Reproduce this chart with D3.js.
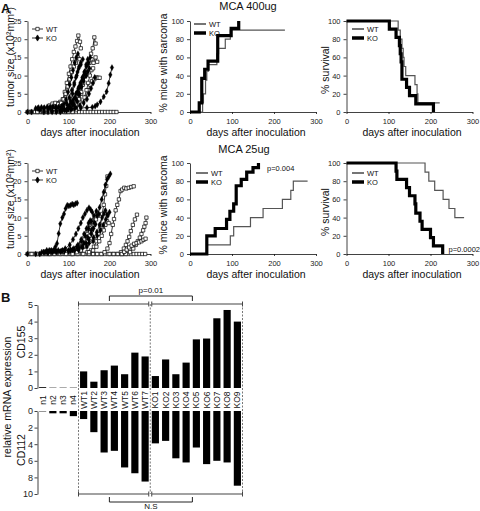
<!DOCTYPE html>
<html><head><meta charset="utf-8">
<script src="https://cdn.jsdelivr.net/npm/d3@7"></script>
<style>body{margin:0;background:#fff}svg{font-family:"Liberation Sans",Arial,sans-serif}</style>
</head><body><svg id="c" width="480" height="511"></svg>
<script>
// ---------------- DATA ----------------
const dayTicks = [0, 100, 200, 300];
const tumorTicks = [0, 5, 10, 15, 20, 25];
const pctTicks = [0, 20, 40, 60, 80, 100];

// Tumor growth, MCA 400ug: [day, size]
const t400_WT = [
  [[0,0],[7,0],[14,0],[21,0],[28,0],[35,0],[42,0],[49,0],[56,0],[63,0],[70,0],[77,0],[84,0],[91,0],[98,0],[105,0],[112,0],[119,0],[126,0],[133,0],[140,0],[147,0],[154,0],[161,0],[168,0],[175,0],[182,0],[189,0],[196,0],[203,0],[210,0],[217,0]],
  [[3,0],[10,0],[17,0],[24,0],[31,0],[38,0],[45,0],[52,0.5],[59,1.5],[66,2.2],[73,2.4],[80,2.8],[86,3.5],[91,5.5],[96,8],[101,10.5],[105,12.5],[109,14.5],[113,16.5],[117,18],[121,19.5],[124,21],[128,19.3],[130,17.5]],
  [[10,0],[24,0],[38,0],[52,0],[66,0],[80,0],[94,0],[105,0.5],[115,1],[122,2],[127,3.5],[131,5],[135,7.5],[140,10],[145,12.3],[150,14],[155,16],[159,17.5],[163,20.5],[166,18.8]],
  [[100,0],[110,0.3],[120,0.8],[128,1.5],[135,2.5],[142,4],[148,6],[153,7.5],[158,8.5],[163,9],[168,9.5],[172,9.4],[176,9.4]],
  [[90,0],[100,0.5],[110,1],[118,2],[125,3.5],[131,5.5],[136,8],[141,10],[146,12],[151,13.5],[156,14.5],[161,13.5],[166,15],[170,13.8]],
  [[40,0],[47,0.8],[54,1.8],[61,2.3],[68,2.5],[75,2.2],[82,2.5],[88,3.5],[93,5],[98,7],[103,9],[108,11],[113,12.5],[118,13.5],[123,15],[127,14.5]],
  [[110,0],[118,0.5],[126,1],[133,2],[139,4],[144,6],[148,8],[152,10],[156,11.5],[160,12]]
];
const t400_KO = [
  [[0,0],[10,0],[20,1],[27,1.2],[34,1.3],[41,1.2],[48,1.4],[55,1.3],[62,1.5],[69,1.3],[76,1.4],[83,1.6],[89,2.2],[94,3.5],[99,5.5],[103,7.5],[107,9.5],[111,11.5],[115,13.5],[119,15],[123,16]],
  [[40,0],[60,0.3],[80,0.6],[100,0.8],[115,1],[130,1.1],[145,1.2],[158,1.3],[165,1.6],[170,2],[178,2.8],[186,4.2],[193,5.6],[198,7.9],[202,10.2],[206,12.2]],
  [[30,0.5],[50,0.8],[70,1],[85,1.5],[95,2.5],[102,4],[108,6],[114,8],[120,10],[125,12],[130,13],[135,14.5]],
  [[50,0],[70,0.3],[85,0.5],[100,1],[110,2],[118,3.5],[124,5],[129,7],[134,9],[139,11],[144,12.5],[149,13.5],[153,15]],
  [[60,0],[80,0.3],[95,0.5],[105,1],[114,2],[121,3],[127,5],[132,7],[137,8.5],[142,10],[147,11],[151,12]],
  [[25,1],[40,1],[55,1.2],[70,1],[85,1.5],[98,1.8],[106,2.5],[112,3.5],[118,5],[124,6.5],[129,8],[134,9.5],[139,11],[143,13],[147,14.5]],
  [[70,0],[90,0.8],[102,1.5],[110,2.5],[116,4],[121,5.5],[126,7],[131,8],[135,9.5],[139,10.5],[143,10]],
  [[80,0],[95,0.5],[108,0.8],[118,1.2],[128,1.8],[137,2.5],[145,3.5],[150,5],[155,6.5],[160,8],[164,9.5]],
  [[90,0.5],[100,1.5],[105,3],[110,5],[114,7.5],[118,9.5],[122,11],[126,12.5],[130,13.5]]
];

// Tumor growth, MCA 25ug
const t25_WT = [
  [[0,0],[7,0],[14,0],[21,0],[28,0],[35,0],[42,0],[49,0],[56,0],[63,0],[70,0],[77,0],[84,0],[91,0],[98,0],[105,0],[112,0],[119,0],[126,0],[133,0],[140,0],[147,0],[154,0],[161,0],[168,0],[175,0],[182,0],[189,0],[196,0],[203,0],[210,0],[217,0],[224,0],[231,0],[238,0],[245,0],[252,0],[259,0],[266,0],[273,0],[280,0],[287,0]],
  [[3,0],[17,0],[31,0],[45,0],[55,0],[60,0.6],[66,0.7],[72,0.7],[78,0.7],[84,0.7],[90,0.6],[97,0.5],[104,0.8],[111,1],[118,1.5],[125,2],[132,3],[139,4],[146,5.5],[152,7],[158,8.5],[164,10],[170,11]],
  [[10,0],[24,0],[38,0],[52,0],[66,0],[80,0],[94,0],[108,0],[122,0],[136,0],[146,0.5],[155,1],[162,2],[168,3.5],[173,5.5],[178,8],[182,11],[186,13.5],[189,16.4],[192,18.7],[195,21.3]],
  [[150,0],[160,0],[170,0],[180,0],[188,0.5],[195,1.5],[200,3],[204,5.5],[208,8],[211,9.6],[215,12],[219,13.5],[223,15],[227,17.3],[231,17.7],[236,18.2],[241,18],[247,18.2],[253,18.4],[259,18.6]],
  [[200,0],[210,0],[220,0],[228,0.5],[235,1.5],[240,2.5],[244,3.5],[248,4.7],[252,6.3],[257,8],[262,9.5],[267,10.8]],
  [[230,0],[240,0],[250,0.5],[258,1.5],[264,2.5],[269,3.5],[274,4.5],[278,5.5],[282,6.5],[285,7.5],[288,8.5],[290,10]],
  [[230,0],[236,0.6],[242,1.2],[248,1.8],[254,2.3],[260,2.8],[266,3],[272,3.2],[278,3.5],[283,3.9],[288,4.2]],
  [[110,0],[120,0.5],[130,1],[138,2],[145,3.5],[151,5],[157,6.5],[162,8],[167,9.5],[172,10.5]],
  [[150,0.5],[160,1],[168,2],[175,3.5],[181,5],[186,6.5],[190,8],[194,9],[198,8.5]]
];
const t25_KO = [
  [[0,0],[20,0],[40,0.5],[47,1],[53,1],[58,1],[64,1.1],[68,2],[72,2.9],[76,5.6],[80,8.3],[85,10],[89,11],[93,12.5],[97,13.4],[101,13.2],[105,13.4],[109,13.7],[113,13.5],[117,13.8],[121,14]],
  [[30,0],[50,0.5],[70,0.8],[90,1],[110,1.2],[125,1.8],[137,3],[147,4.5],[156,6.5],[163,8.5],[170,10.5],[176,12.8],[181,15],[186,17],[190,19],[194,20.5],[198,21.2],[202,22]],
  [[35,0.5],[55,0.8],[75,1],[92,1.5],[103,2.5],[111,4],[118,5.5],[124,7],[130,8.5],[135,10],[140,11],[145,12],[150,12.7],[154,12.2],[158,11.5]],
  [[45,0.5],[65,0.8],[85,1],[105,1.2],[120,2],[131,3.5],[141,5],[149,7],[156,9],[162,10.5],[168,11.8],[174,11]],
  [[60,0.5],[90,0.8],[115,1],[135,1.8],[150,3],[161,4.5],[169,6],[176,8],[182,10],[186,11],[190,12],[194,10.8]],
  [[50,0.3],[80,0.6],[105,1],[122,1.5],[133,2],[143,3],[150,4],[156,5.5],[161,7],[166,8.2]],
  [[40,0.5],[62,0.8],[82,0.8],[100,1],[113,1.5],[123,2.5],[131,4],[138,5.5],[144,7],[149,8.5],[153,9.2]],
  [[70,0.5],[100,0.8],[125,1.2],[145,2],[160,3.5],[170,5],[178,6.5],[185,8],[191,9.5],[196,10.5],[200,11.5]]
];

// Step curves (event points: [day, percent])
const sarc400_WT = [[0,0],[30,10],[32,20],[37,35],[40,45],[44,52],[64,64],[68,70],[84,80],[96,90],[226,90]];
const sarc400_KO = [[0,0],[22,10],[28,37],[35,47],[43,56],[66,84],[98,92],[116,100]];
const surv400_WT = [[0,100],[123,90],[128,80],[132,70],[135,60],[137,50],[141,40],[163,30],[168,20],[170,10],[222,10]];
const surv400_KO = [[0,100],[102,91],[118,82],[126,73],[128,64],[130,55],[132,36],[143,27],[150,18],[165,9],[207,0]];
const sarc25_WT = [[0,0],[40,10],[96,20],[104,30],[144,40],[174,50],[220,60],[240,70],[246,80],[280,80]];
const sarc25_KO = [[0,0],[40,20],[60,28],[87,38],[95,47],[104,55],[110,75],[122,82],[135,90],[150,95],[163,100]];
const surv25_WT = [[0,100],[187,90],[196,80],[210,70],[230,60],[244,50],[258,40],[280,40]];
const surv25_KO = [[0,100],[118,91],[120,82],[143,73],[150,64],[163,55],[165,45],[175,36],[180,27],[200,18],[207,9],[229,0]];

// Panel B
const categories = ["n1","n2","n3","n4","WT1","WT2","WT3","WT4","WT5","WT6","WT7","KO1","KO2","KO3","KO4","KO5","KO6","KO7","KO8","KO9"];
const cd155 = [0.05,0.02,0.02,0.02,1.0,0.38,1.07,1.35,0.83,2.13,1.9,0.72,1.72,0.83,1.53,2.93,2.98,4.2,4.7,4.0];
const cd112 = [0.05,0.28,0.28,0.62,0.97,2.55,5.0,4.8,6.8,7.5,8.5,3.9,3.6,5.7,6.2,4.4,6.4,6.0,6.2,9.0];
const cd155Ticks = [0,1,2,3,4,5];
const cd112Ticks = [0,2,4,6,8,10];

// ---------------- DRAW ----------------
const svg = d3.select("#c");
const INK = "#111";

function styleAxis(g, fs) {
  g.selectAll("path.domain").attr("stroke", INK).attr("stroke-width", 0.8);
  g.selectAll(".tick line").attr("stroke", INK).attr("stroke-width", 0.8);
  g.selectAll("text").attr("font-size", fs).attr("fill", "#222").attr("font-family", "Liberation Sans, Arial, sans-serif");
}

function makePlot(x0, width, yBot, yTop, yMax, yTicks) {
  const x = d3.scaleLinear().domain([0, 300]).range([x0, x0 + width]);
  const y = d3.scaleLinear().domain([0, yMax]).range([yBot, yTop]);
  const gy = svg.append("g").attr("transform", `translate(${x0},0)`)
    .call(d3.axisLeft(y).tickValues(yTicks).tickFormat(d3.format("d")).tickSize(3).tickSizeOuter(0).tickPadding(3));
  styleAxis(gy, 7.5);
  const gx = svg.append("g").attr("transform", `translate(0,${yBot})`)
    .call(d3.axisBottom(x).tickValues(dayTicks).tickFormat(d3.format("d")).tickSize(2).tickSizeOuter(0).tickPadding(5));
  styleAxis(gx, 7.5);
  return {x, y};
}

function vText(txt, cx, cy, fs) {
  svg.append("text").attr("transform", `translate(${cx},${cy}) rotate(-90)`)
    .attr("text-anchor", "middle").attr("dominant-baseline", "central")
    .attr("font-size", fs).attr("fill", INK).text(txt);
}
function hText(txt, cx, cy, fs, anchor) {
  return svg.append("text").attr("x", cx).attr("y", cy).attr("text-anchor", anchor || "middle")
    .attr("dominant-baseline", "central").attr("font-size", fs).attr("fill", INK).text(txt);
}

const squareSym = d3.symbol().type(d3.symbolSquare).size(11);
const diamondSym = d3.symbol().type(d3.symbolDiamond).size(11);

function drawTumor(p, wt, ko) {
  const line = d3.line().x(d => p.x(d[0])).y(d => p.y(d[1]));
  const all = [];
  wt.forEach(s => all.push({s, k: "WT"}));
  ko.forEach(s => all.push({s, k: "KO"}));
  all.forEach(o => {
    svg.append("path").attr("d", line(o.s)).attr("fill", "none").attr("stroke", "#000").attr("stroke-width", 0.8);
  });
  all.forEach(o => {
    svg.append("g").selectAll("path").data(o.s).join("path")
      .attr("transform", d => `translate(${p.x(d[0])},${p.y(d[1])})`)
      .attr("d", o.k === "WT" ? squareSym : diamondSym)
      .attr("fill", o.k === "WT" ? "#fff" : "#000")
      .attr("stroke", "#000").attr("stroke-width", o.k === "WT" ? 0.7 : 0.3);
  });
}

function tumorLegend(lx, ly) {
  [["WT", 0], ["KO", 9]].forEach(([k, dy]) => {
    svg.append("line").attr("x1", lx).attr("x2", lx + 11).attr("y1", ly + dy).attr("y2", ly + dy).attr("stroke", "#000").attr("stroke-width", 0.8);
    svg.append("path").attr("transform", `translate(${lx + 5.5},${ly + dy})`)
      .attr("d", k === "WT" ? squareSym() : diamondSym())
      .attr("fill", k === "WT" ? "#fff" : "#000").attr("stroke", "#000").attr("stroke-width", 0.7);
    hText(k, lx + 14, ly + dy, 7.5, "start");
  });
}

function drawStep(p, wt, ko) {
  const line = d3.line().x(d => p.x(d[0])).y(d => p.y(d[1])).curve(d3.curveStepAfter);
  svg.append("path").attr("d", line(wt)).attr("fill", "none").attr("stroke", "#555").attr("stroke-width", 1.2);
  svg.append("path").attr("d", line(ko)).attr("fill", "none").attr("stroke", "#000").attr("stroke-width", 3.2);
}
function stepLegend(lx, ly) {
  svg.append("line").attr("x1", lx).attr("x2", lx + 12).attr("y1", ly).attr("y2", ly).attr("stroke", "#666").attr("stroke-width", 1.8);
  hText("WT", lx + 15, ly, 7.5, "start");
  svg.append("line").attr("x1", lx).attr("x2", lx + 12).attr("y1", ly + 9).attr("y2", ly + 9).attr("stroke", "#000").attr("stroke-width", 3.5);
  hText("KO", lx + 15, ly + 9, 7.5, "start");
}

// Panel letters
svg.append("text").attr("x", 1).attr("y", 13).attr("font-size", 13).attr("font-weight", "bold").attr("fill", INK).text("A");
svg.append("text").attr("x", 1).attr("y", 302).attr("font-size", 13).attr("font-weight", "bold").attr("fill", INK).text("B");

// Row positions
const rows = [{bot: 112, top: 21}, {bot: 254, top: 163}];

// Row 1
const p1 = makePlot(27.5, 123, rows[0].bot, rows[0].top, 25, tumorTicks);
drawTumor(p1, t400_WT, t400_KO);
tumorLegend(32, 29);
const p2 = makePlot(190, 126, rows[0].bot, rows[0].top, 100, pctTicks);
drawStep(p2, sarc400_WT, sarc400_KO);
stepLegend(194, 24);
const p3 = makePlot(346.5, 126, rows[0].bot, rows[0].top, 100, pctTicks);
drawStep(p3, surv400_WT, surv400_KO);
stepLegend(352, 29);

// Row 2
const p4 = makePlot(27.5, 123, rows[1].bot, rows[1].top, 25, tumorTicks);
drawTumor(p4, t25_WT, t25_KO);
tumorLegend(32, 171);
const p5 = makePlot(190, 126, rows[1].bot, rows[1].top, 100, pctTicks);
drawStep(p5, sarc25_WT, sarc25_KO);
stepLegend(196, 173);
const p6 = makePlot(346.5, 126, rows[1].bot, rows[1].top, 100, pctTicks);
drawStep(p6, surv25_WT, surv25_KO);
stepLegend(352, 173);

// Titles & labels
hText("MCA 400ug", 248, 6, 11);
hText("MCA 25ug", 244, 149, 11);
hText("p=0.004", 267, 168, 7.5, "start");
hText("p=0.0002", 480, 249, 7.5, "end");
[0, 142].forEach(off => {
  hText("days after inoculation", 90, 132 + off, 10.5);
  hText("days after inoculation", 256, 132 + off, 10.5);
  hText("days after inoculation", 412, 132 + off, 10.5);
  vText("tumor size (x10²mm²)", 10, 57 + off, 10.5);
  vText("% mice with sarcoma", 163, 63 + off, 10.5);
  vText("% survival", 325, 70 + off, 10.5);
});

// ---------------- Panel B ----------------
const xb = d3.scaleBand().domain(categories).range([37.5, 242.5]).paddingInner(0.3).paddingOuter(0.15);
const yTopB = d3.scaleLinear().domain([0, 5]).range([388, 305]);
const yBotB = d3.scaleLinear().domain([0, 10]).range([411, 494]);
const gap = (xb.step() - xb.bandwidth()) / 2;
const b1 = xb("WT1") - gap, b2 = xb("KO1") - gap, b3 = xb("KO9") + xb.bandwidth() + gap;

[b1, b2, b3].forEach(bx => {
  svg.append("line").attr("x1", bx).attr("x2", bx).attr("y1", 304).attr("y2", 494)
    .attr("stroke", "#555").attr("stroke-width", 0.8).attr("stroke-dasharray", "2,1.5");
});

svg.append("g").selectAll("rect").data(categories).join("rect")
  .attr("x", d => xb(d)).attr("width", xb.bandwidth())
  .attr("y", (d, i) => yTopB(cd155[i])).attr("height", (d, i) => yTopB(0) - yTopB(cd155[i]))
  .attr("fill", "#000");
svg.append("g").selectAll("rect").data(categories).join("rect")
  .attr("x", d => xb(d)).attr("width", xb.bandwidth())
  .attr("y", yBotB(0)).attr("height", (d, i) => yBotB(cd112[i]) - yBotB(0))
  .attr("fill", "#000");

const ga = svg.append("g").attr("transform", "translate(37.5,0)")
  .call(d3.axisLeft(yTopB).tickValues(cd155Ticks).tickFormat(d3.format("d")).tickSize(3).tickSizeOuter(0).tickPadding(1.5));
styleAxis(ga, 9);
const gb = svg.append("g").attr("transform", "translate(37.5,0)")
  .call(d3.axisLeft(yBotB).tickValues(cd112Ticks).tickFormat(d3.format("d")).tickSize(3).tickSizeOuter(0).tickPadding(1.5));
styleAxis(gb, 9);

svg.append("g").selectAll("g").data(categories).join("g")
  .attr("transform", d => `translate(${xb(d) + xb.bandwidth() / 2},400) rotate(-90)`)
  .each(function(d) {
    const g = d3.select(this);
    g.append("rect").attr("x", -8).attr("y", -4.5).attr("width", 16).attr("height", 9).attr("fill", "#fff");
    g.append("text").attr("text-anchor", "middle").attr("dominant-baseline", "central")
      .attr("font-size", 8.5).attr("fill", INK).text(d);
  });

vText("relative mRNA expression", 7, 397, 10.5);
vText("CD155", 21, 342, 10.5);
vText("CD112", 21, 450, 10.5);

function range(y, xa, xb2, cap) {
  svg.append("line").attr("x1", xa).attr("x2", xb2).attr("y1", y).attr("y2", y).attr("stroke", "#444").attr("stroke-width", 1.1);
  [xa, xb2].forEach(xx => svg.append("line").attr("x1", xx).attr("x2", xx).attr("y1", y - cap).attr("y2", y + cap).attr("stroke", "#444").attr("stroke-width", 1));
}
range(304, b1, b2 - 1.5, 2.5);
range(304, b2 + 1.5, b3, 2.5);
range(494, b1, b2 - 1.5, 2.5);
range(494, b2 + 1.5, b3, 2.5);
const mWT = (b1 + b2) / 2 - 5, mKO = (b2 + b3) / 2 - 4;
svg.append("path").attr("d", `M${mWT},301V296H${mKO}V301`).attr("fill", "none").attr("stroke", "#222").attr("stroke-width", 1);
hText("p=0.01", (mWT + mKO) / 2, 290, 8);
svg.append("path").attr("d", `M${mWT},497V502H${mKO}V497`).attr("fill", "none").attr("stroke", "#222").attr("stroke-width", 1);
hText("N.S", (mWT + mKO) / 2, 506.5, 8);
</script></body></html>
